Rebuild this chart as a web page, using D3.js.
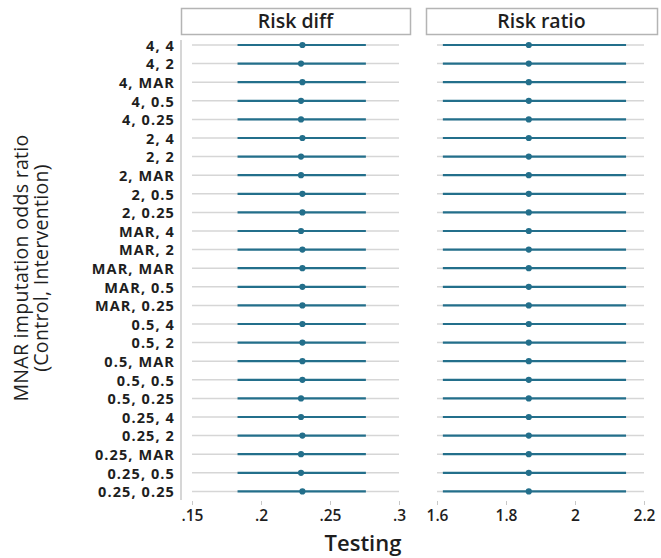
<!DOCTYPE html>
<html><head><meta charset="utf-8">
<script src="https://cdn.jsdelivr.net/npm/d3@7"></script>
<style>
body{margin:0;background:#fff;}
svg{display:block;font-family:"Open Sans",sans-serif;}
</style></head>
<body><svg id="c" width="661" height="558"></svg>
<script>
const categories = ["4, 4","4, 2","4, MAR","4, 0.5","4, 0.25","2, 4","2, 2","2, MAR","2, 0.5","2, 0.25",
 "MAR, 4","MAR, 2","MAR, MAR","MAR, 0.5","MAR, 0.25","0.5, 4","0.5, 2","0.5, MAR","0.5, 0.5","0.5, 0.25",
 "0.25, 4","0.25, 2","0.25, MAR","0.25, 0.5","0.25, 0.25"];
const panels = ["Risk diff","Risk ratio"];
const rdEst = [0.230,0.229,0.230,0.229,0.229,0.230,0.229,0.229,0.230,0.230,0.229,0.230,0.230,0.230,0.230,0.230,0.230,0.230,0.230,0.229,0.229,0.230,0.229,0.229,0.230];
const rdLo  = Array(25).fill(0.183);
const rdHi  = Array(25).fill(0.276);
const rrEst = [1.866,1.866,1.866,1.866,1.866,1.866,1.866,1.866,1.866,1.866,1.866,1.866,1.866,1.866,1.866,1.866,1.866,1.866,1.866,1.866,1.866,1.866,1.866,1.866,1.866];
const rrLo  = Array(25).fill(1.617);
const rrHi  = Array(25).fill(2.148);
const rdTicks = [0.15,0.2,0.25,0.3];
const rdTickLabels = [".15",".2",".25",".3"];
const rrTicks = [1.6,1.8,2,2.2];
const rrTickLabels = ["1.6","1.8","2","2.2"];
const xTitle = "Testing";
const yTitle = ["MNAR imputation odds ratio","(Control, Intervention)"];

const svg = d3.select("#c");
const col = "#236f8b", grid = "#d6d6d6", txt = "#1e1e1e";
const y = d3.scalePoint().domain(categories).range([45, 491.4]);

const panelDefs = [
  {title: panels[0], x: d3.scaleLinear().domain([0.15,0.3]).range([192,399]), est: rdEst, lo: rdLo, hi: rdHi, ticks: rdTicks, labels: rdTickLabels, box:[181,410]},
  {title: panels[1], x: d3.scaleLinear().domain([1.6,2.2]).range([437,644]), est: rrEst, lo: rrLo, hi: rrHi, ticks: rrTicks, labels: rrTickLabels, box:[426,657]}
];

panelDefs.forEach(p => {
  const g = svg.append("g");
  g.append("rect").attr("x", p.box[0]+0.5).attr("y", 8.5).attr("width", p.box[1]-p.box[0]).attr("height", 26)
    .attr("fill","#fff").attr("stroke","#b4b4b4").attr("stroke-width",1.5);
  g.append("text").attr("x",(p.box[0]+p.box[1])/2).attr("y",28).attr("text-anchor","middle")
    .attr("font-size",19.5).attr("font-weight",600).attr("fill",txt).text(p.title);
  g.selectAll("line.grid").data(categories).join("line").attr("class","grid")
    .attr("x1",p.x.range()[0]).attr("x2",p.x.range()[1])
    .attr("y1",d=>y(d)).attr("y2",d=>y(d)).attr("stroke",grid).attr("stroke-width",1.5);
  g.selectAll("line.ci").data(categories).join("line").attr("class","ci")
    .attr("x1",(d,i)=>p.x(p.lo[i])).attr("x2",(d,i)=>p.x(p.hi[i]))
    .attr("y1",d=>y(d)).attr("y2",d=>y(d)).attr("stroke",col).attr("stroke-width",2.2);
  g.selectAll("circle").data(categories).join("circle")
    .attr("cx",(d,i)=>p.x(p.est[i])).attr("cy",d=>y(d)).attr("r",3.1).attr("fill",col);
  const ax = g.append("g").attr("transform","translate(0,501)")
    .call(d3.axisBottom(p.x).tickValues(p.ticks).tickSize(4).tickFormat((d,i)=>p.labels[i]));
  ax.select(".domain").remove();
  ax.selectAll(".tick line").attr("stroke","#c8c8c8");
  ax.selectAll(".tick text").attr("font-size",15.5).attr("font-weight",600).attr("fill",txt)
    .attr("font-family","'Open Sans',sans-serif").attr("dy","0.85em");
});

const ay = svg.append("g").attr("transform","translate(181,0)")
  .call(d3.axisLeft(y).tickSize(0).tickPadding(6));
ay.select(".domain").attr("stroke","#c8c8c8").attr("stroke-width",1.5).attr("d","M0,40V500");
ay.selectAll(".tick text").attr("font-size",14.5).attr("font-weight",700).attr("fill",txt)
  .attr("font-family","'Open Sans',sans-serif").attr("letter-spacing","1.1px").attr("dy","0.36em");

svg.append("text").attr("x",363).attr("y",551).attr("text-anchor","middle")
  .attr("font-size",22).attr("font-weight",600).attr("fill",txt).text(xTitle);

const yt = svg.append("text").attr("transform","translate(0,268) rotate(-90)").attr("text-anchor","middle")
  .attr("font-size",19.5).attr("fill",txt).attr("letter-spacing","0.3px");
yt.append("tspan").attr("x",0).attr("y",28).text(yTitle[0]);
yt.append("tspan").attr("x",0).attr("y",48).text(yTitle[1]);
</script></body></html>
